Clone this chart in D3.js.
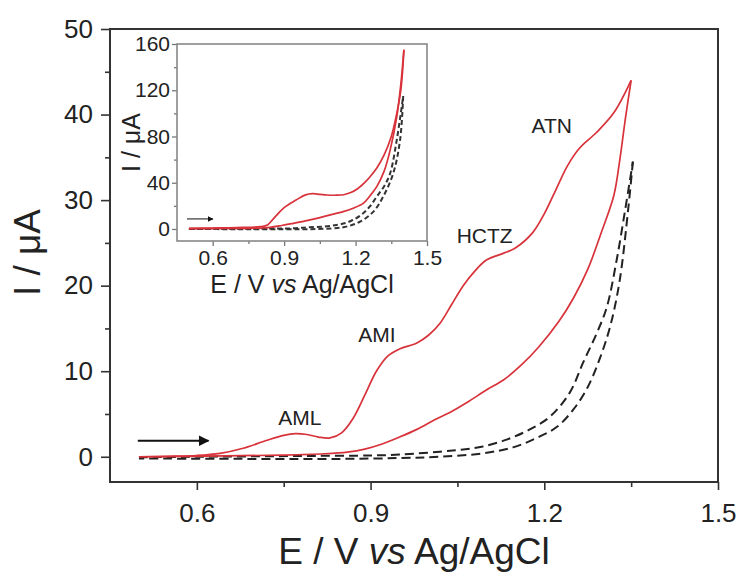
<!DOCTYPE html>
<html lang="en">

<head>
    <meta charset="UTF-8">
    <script src="https://d3js.org/d3.v7.min.js"></script>
    <title>CV</title>
    <style>
        body { margin: 0; background: #fff; }
        text { font-family: "Liberation Sans", Arial, sans-serif; fill: #222; }
    </style>
</head>

<body>
    <div id="chart"></div>
    <script>

        // ---- main plot data (E in V, I in uA) ----
        const redFwdE = [0.50, 0.55, 0.60, 0.64, 0.68, 0.72, 0.75, 0.77, 0.79, 0.81, 0.83, 0.85, 0.87, 0.89, 0.91, 0.93, 0.95, 0.98, 1.00, 1.02, 1.04, 1.06, 1.08, 1.10, 1.13, 1.15, 1.18, 1.20, 1.22, 1.24, 1.26, 1.29, 1.32, 1.35];
        const redFwdI = [0, 0.05, 0.15, 0.4, 1.0, 1.9, 2.5, 2.7, 2.6, 2.3, 2.2, 2.8, 4.5, 7.2, 10.0, 11.8, 12.6, 13.3, 14.2, 15.6, 17.8, 20.0, 21.7, 23.0, 23.8, 24.4, 26.2, 28.4, 31.2, 34.0, 36.0, 37.9, 40.2, 44.0];
        const redRevE = [1.35, 1.34, 1.33, 1.32, 1.30, 1.275, 1.25, 1.225, 1.19, 1.16, 1.13, 1.10, 1.07, 1.04, 1.01, 0.98, 0.95, 0.92, 0.89, 0.86, 0.82, 0.75, 0.65, 0.50];
        const redRevI = [44.0, 39.5, 34.5, 30.5, 26.5, 21.9, 18.5, 15.8, 12.8, 10.7, 9.0, 7.8, 6.5, 5.3, 4.3, 3.2, 2.3, 1.5, 0.9, 0.55, 0.35, 0.2, 0.1, 0];
        const blankFwdE = [0.50, 0.60, 0.70, 0.80, 0.90, 0.95, 1.02, 1.06, 1.094, 1.135, 1.175, 1.21, 1.244, 1.267, 1.291, 1.308, 1.325, 1.34, 1.353];
        const blankFwdI = [-0.05, 0.0, 0.05, 0.1, 0.15, 0.25, 0.6, 0.85, 1.2, 2.0, 3.2, 4.7, 7.5, 11.0, 14.5, 17.5, 23.0, 29.0, 34.5];
        const blankRevE = [1.353, 1.345, 1.33, 1.314, 1.296, 1.274, 1.25, 1.222, 1.187, 1.146, 1.094, 1.02, 0.95, 0.85, 0.70, 0.50];
        const blankRevI = [34.5, 29.0, 20.5, 15.3, 11.5, 8.0, 5.5, 3.5, 2.2, 1.1, 0.4, 0.0, -0.15, -0.25, -0.25, -0.2];

        // ---- inset data ----
        const insRedFwdE = [0.50, 0.60, 0.70, 0.80, 0.83, 0.86, 0.90, 0.95, 0.99, 1.02, 1.05, 1.08, 1.12, 1.15, 1.18, 1.21, 1.24, 1.26, 1.29, 1.32, 1.35, 1.37, 1.39, 1.403];
        const insRedFwdI = [0.5, 0.8, 1.2, 2.0, 3.5, 10, 18.5, 25, 29.5, 30.5, 30, 29.4, 29.2, 29.6, 31.5, 35, 40.5, 45, 53, 64, 80, 97, 120, 155];
        const insRedRevE = [1.403, 1.39, 1.373, 1.345, 1.32, 1.289, 1.26, 1.232, 1.19, 1.148, 1.09, 1.037, 0.99, 0.939, 0.89, 0.84, 0.757, 0.65, 0.50];
        const insRedRevI = [155, 125, 97, 68, 50, 36.6, 28.5, 22.2, 18, 15, 12, 9.2, 7, 4.9, 3, 1.4, 0.6, 0.4, 0.3];
        const insBlankFwdE = [0.50, 0.70, 0.85, 0.94, 1.00, 1.064, 1.12, 1.163, 1.20, 1.232, 1.26, 1.289, 1.32, 1.345, 1.373, 1.40];
        const insBlankFwdI = [0, 0.2, 0.4, 0.6, 1.5, 2.0, 3.5, 5.5, 9, 13.6, 19.5, 28, 37, 48, 77, 115];
        const insBlankRevE = [1.40, 1.387, 1.358, 1.316, 1.275, 1.219, 1.148, 1.037, 0.90, 0.70, 0.50];
        const insBlankRevI = [115, 77, 48, 28, 15, 6.3, 1.5, 0, -0.3, -0.2, 0];

        // ---- ticks and labels ----
        const mainXTicks = [0.6, 0.9, 1.2, 1.5];
        const mainXMinor = [0.75, 1.05, 1.35];
        const mainYTicks = [0, 10, 20, 30, 40, 50];
        const mainYMinor = [5, 15, 25, 35, 45];
        const insXTicks = [0.6, 0.9, 1.2, 1.5];
        const insXMinor = [0.75, 1.05, 1.35];
        const insYTicks = [0, 40, 80, 120, 160];
        const insYMinor = [20, 60, 100, 140];
        const peakNames = ["AML", "AMI", "HCTZ", "ATN"];
        const peakE = [0.778, 0.911, 1.097, 1.213];
        const peakI = [3.74, 13.4, 25.0, 37.85];
        const arrowE = [0.498, 0.62];
        const arrowI = 1.87;
        const insArrowE = [0.492, 0.601];
        const insArrowI = 8.7;

        const W = 742, H = 574;
        const margin = { top: 29, right: 24, bottom: 92, left: 110 },
            width = W - margin.left - margin.right,
            height = H - margin.top - margin.bottom;

        const root = d3.select("#chart")
            .append("svg")
            .attr("width", W)
            .attr("height", H);

        root.append("defs").append("marker")
            .attr("id", "head")
            .attr("viewBox", "0 0 10 10")
            .attr("refX", 9).attr("refY", 5)
            .attr("markerWidth", 5).attr("markerHeight", 5)
            .attr("markerUnits", "strokeWidth")
            .attr("orient", "auto")
            .append("path")
            .attr("d", "M0,0 L10,5 L0,10 z")
            .attr("fill", "#111");

        const svg = root.append("g")
            .attr("transform", `translate(${margin.left},${margin.top})`);

        const x = d3.scaleLinear().domain([0.45, 1.5]).range([0, width]);
        const y = d3.scaleLinear().domain([-2.95, 50]).range([height, 0]);

        const zip = (es, is) => es.map((e, i) => [e, is[i]]);
        const red = "#d8323a";

        // axes
        const styleAxis = g => {
            g.select(".domain").remove();
            g.selectAll("line").attr("stroke", "#333").attr("stroke-width", 1.6);
        };
        svg.append("g")
            .attr("transform", `translate(0,${height})`)
            .call(d3.axisBottom(x).tickValues(mainXTicks).tickFormat(d3.format(".1f")).tickSize(8).tickPadding(13.5))
            .call(styleAxis)
            .call(g => g.selectAll("text").attr("font-size", 26).attr("fill", "#222"));
        svg.append("g")
            .attr("transform", `translate(0,${height})`)
            .call(d3.axisBottom(x).tickValues(mainXMinor).tickFormat("").tickSize(5))
            .call(styleAxis);
        svg.append("g")
            .call(d3.axisLeft(y).tickValues(mainYTicks).tickSize(9).tickPadding(8))
            .call(styleAxis)
            .call(g => g.selectAll("text").attr("font-size", 26).attr("fill", "#222"));
        svg.append("g")
            .call(d3.axisLeft(y).tickValues(mainYMinor).tickFormat("").tickSize(5))
            .call(styleAxis);

        svg.append("rect")
            .attr("width", width).attr("height", height)
            .attr("fill", "none").attr("stroke", "#333").attr("stroke-width", 2);

        const line = d3.line()
            .x(d => x(d[0])).y(d => y(d[1]))
            .curve(d3.curveCatmullRom.alpha(0.5));

        const mainSeries = [
            { pts: zip(blankFwdE, blankFwdI), dash: true },
            { pts: zip(blankRevE, blankRevI), dash: true },
            { pts: zip(redRevE, redRevI), dash: false },
            { pts: zip(redFwdE, redFwdI), dash: false }
        ];
        svg.selectAll(".cv").data(mainSeries).join("path")
            .attr("class", "cv")
            .attr("fill", "none")
            .attr("stroke", d => d.dash ? "#222" : red)
            .attr("stroke-width", d => d.dash ? 2 : 1.7)
            .attr("stroke-dasharray", d => d.dash ? "9,5" : null)
            .attr("d", d => line(d.pts));

        svg.append("line")
            .attr("x1", x(arrowE[0])).attr("x2", x(arrowE[1]))
            .attr("y1", y(arrowI)).attr("y2", y(arrowI))
            .attr("stroke", "#111").attr("stroke-width", 2.2)
            .attr("marker-end", "url(#head)");

        svg.selectAll(".peak").data(peakNames).join("text")
            .attr("class", "peak")
            .attr("x", (d, i) => x(peakE[i]))
            .attr("y", (d, i) => y(peakI[i]))
            .attr("text-anchor", "middle")
            .attr("font-size", 21)
            .text(d => d);

        svg.append("text")
            .attr("x", width / 2)
            .attr("y", height + 82)
            .attr("text-anchor", "middle")
            .attr("font-size", 37)
            .html('E / V <tspan font-style="italic">vs</tspan> Ag/AgCl');

        svg.append("text")
            .attr("transform", `translate(${40 - margin.left},${height / 2 - 3}) rotate(-90)`)
            .attr("text-anchor", "middle")
            .attr("font-size", 37)
            .text("I / \u03bcA");

        // ---- inset ----
        const ins = { left: 177, top: 44, w: 250, h: 197 };
        const gi = root.append("g").attr("transform", `translate(${ins.left},${ins.top})`);
        const xi = d3.scaleLinear().domain([0.45, 1.5]).range([0, ins.w]);
        const yi = d3.scaleLinear().domain([-10.4, 160]).range([ins.h, 0]);

        gi.append("rect").attr("width", ins.w).attr("height", ins.h).attr("fill", "#fff");

        const styleInset = g => {
            g.select(".domain").remove();
            g.selectAll("line").attr("stroke", "#777").attr("stroke-width", 1.3);
            g.selectAll("text").attr("font-size", 21).attr("fill", "#333");
        };
        gi.append("g")
            .attr("transform", `translate(0,${ins.h})`)
            .call(d3.axisBottom(xi).tickValues(insXTicks).tickFormat(d3.format(".1f")).tickSize(5).tickPadding(4))
            .call(styleInset);
        gi.append("g")
            .attr("transform", `translate(0,${ins.h})`)
            .call(d3.axisBottom(xi).tickValues(insXMinor).tickFormat("").tickSize(3))
            .call(styleInset);
        gi.append("g")
            .call(d3.axisLeft(yi).tickValues(insYTicks).tickSize(5).tickPadding(2))
            .call(styleInset);
        gi.append("g")
            .call(d3.axisLeft(yi).tickValues(insYMinor).tickFormat("").tickSize(3))
            .call(styleInset);

        gi.append("rect")
            .attr("width", ins.w).attr("height", ins.h)
            .attr("fill", "none").attr("stroke", "#888").attr("stroke-width", 1.6);

        const linei = d3.line()
            .x(d => xi(d[0])).y(d => yi(d[1]))
            .curve(d3.curveCatmullRom.alpha(0.5));

        const insSeries = [
            { pts: zip(insBlankFwdE, insBlankFwdI), dash: true },
            { pts: zip(insBlankRevE, insBlankRevI), dash: true },
            { pts: zip(insRedRevE, insRedRevI), dash: false },
            { pts: zip(insRedFwdE, insRedFwdI), dash: false }
        ];
        gi.selectAll(".cvi").data(insSeries).join("path")
            .attr("class", "cvi")
            .attr("fill", "none")
            .attr("stroke", d => d.dash ? "#333" : red)
            .attr("stroke-width", d => d.dash ? 2 : 1.7)
            .attr("stroke-dasharray", d => d.dash ? "5,3" : null)
            .attr("d", d => linei(d.pts));

        gi.append("line")
            .attr("x1", xi(insArrowE[0])).attr("x2", xi(insArrowE[1]))
            .attr("y1", yi(insArrowI)).attr("y2", yi(insArrowI))
            .attr("stroke", "#222").attr("stroke-width", 1.1)
            .attr("marker-end", "url(#head)");

        gi.append("text")
            .attr("x", ins.w / 2)
            .attr("y", ins.h + 52)
            .attr("text-anchor", "middle")
            .attr("font-size", 25)
            .html('E / V <tspan font-style="italic">vs</tspan> Ag/AgCl');

        gi.append("text")
            .attr("transform", `translate(${140 - ins.left},${ins.h / 2}) rotate(-90)`)
            .attr("text-anchor", "middle")
            .attr("font-size", 25)
            .text("I / \u03bcA");

    </script>
</body>

</html>
